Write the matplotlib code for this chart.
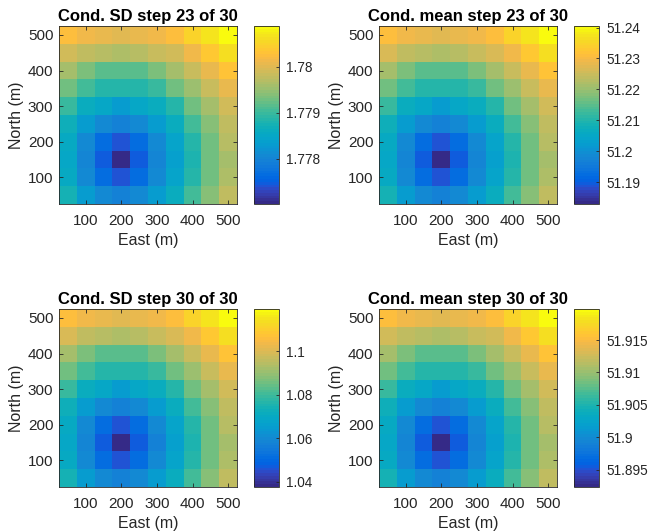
import numpy as np
import matplotlib.pyplot as plt
from matplotlib.colors import ListedColormap
from matplotlib.ticker import FormatStrFormatter

plt.rcParams['font.family'] = ['Liberation Sans', 'DejaVu Sans']

# grid cell centres (m); rows of each field run from north=500 down to north=50
east = [50, 100, 150, 200, 250, 300, 350, 400, 450, 500]
north = [500, 450, 400, 350, 300, 250, 200, 150, 100, 50]

sd_23 = [
    [1.78027, 1.78012, 1.78008, 1.78000, 1.78008, 1.78015, 1.78027, 1.78050, 1.78070, 1.78089],
    [1.77992, 1.77977, 1.77969, 1.77965, 1.77969, 1.77981, 1.77992, 1.78012, 1.78035, 1.78062],
    [1.77961, 1.77934, 1.77919, 1.77919, 1.77919, 1.77934, 1.77957, 1.77981, 1.78008, 1.78031],
    [1.77926, 1.77903, 1.77888, 1.77888, 1.77888, 1.77899, 1.77926, 1.77954, 1.77981, 1.78008],
    [1.77896, 1.77865, 1.77849, 1.77830, 1.77849, 1.77865, 1.77888, 1.77926, 1.77961, 1.77988],
    [1.77868, 1.77834, 1.77806, 1.77795, 1.77806, 1.77830, 1.77861, 1.77903, 1.77942, 1.77977],
    [1.77857, 1.77810, 1.77764, 1.77741, 1.77764, 1.77806, 1.77845, 1.77888, 1.77930, 1.77969],
    [1.77849, 1.77803, 1.77748, 1.77702, 1.77748, 1.77799, 1.77837, 1.77880, 1.77926, 1.77961],
    [1.77857, 1.77810, 1.77764, 1.77741, 1.77764, 1.77806, 1.77845, 1.77888, 1.77930, 1.77965],
    [1.77872, 1.77834, 1.77806, 1.77795, 1.77806, 1.77830, 1.77861, 1.77903, 1.77942, 1.77977],
]

mean_23 = [
    [51.2313, 51.2290, 51.2284, 51.2273, 51.2284, 51.2296, 51.2313, 51.2347, 51.2376, 51.2405],
    [51.2261, 51.2238, 51.2226, 51.2221, 51.2226, 51.2244, 51.2261, 51.2290, 51.2324, 51.2365],
    [51.2215, 51.2175, 51.2152, 51.2152, 51.2152, 51.2175, 51.2209, 51.2244, 51.2284, 51.2319],
    [51.2163, 51.2129, 51.2106, 51.2106, 51.2106, 51.2123, 51.2163, 51.2203, 51.2244, 51.2284],
    [51.2117, 51.2071, 51.2048, 51.2019, 51.2048, 51.2071, 51.2106, 51.2163, 51.2215, 51.2255],
    [51.2077, 51.2025, 51.1985, 51.1967, 51.1985, 51.2019, 51.2065, 51.2129, 51.2186, 51.2238],
    [51.2059, 51.1990, 51.1921, 51.1887, 51.1921, 51.1985, 51.2042, 51.2106, 51.2169, 51.2226],
    [51.2048, 51.1979, 51.1898, 51.1829, 51.1898, 51.1973, 51.2031, 51.2094, 51.2163, 51.2215],
    [51.2059, 51.1990, 51.1921, 51.1887, 51.1921, 51.1985, 51.2042, 51.2106, 51.2169, 51.2221],
    [51.2082, 51.2025, 51.1985, 51.1967, 51.1985, 51.2019, 51.2065, 51.2129, 51.2186, 51.2238],
]

sd_30 = [
    [1.1062, 1.1030, 1.1021, 1.1005, 1.1021, 1.1038, 1.1062, 1.1111, 1.1152, 1.1193],
    [1.0989, 1.0956, 1.0940, 1.0932, 1.0940, 1.0964, 1.0989, 1.1030, 1.1079, 1.1136],
    [1.0923, 1.0866, 1.0834, 1.0834, 1.0834, 1.0866, 1.0915, 1.0964, 1.1021, 1.1070],
    [1.0850, 1.0801, 1.0768, 1.0768, 1.0768, 1.0793, 1.0850, 1.0907, 1.0964, 1.1021],
    [1.0785, 1.0719, 1.0687, 1.0646, 1.0687, 1.0719, 1.0768, 1.0850, 1.0923, 1.0981],
    [1.0727, 1.0654, 1.0597, 1.0572, 1.0597, 1.0646, 1.0711, 1.0801, 1.0883, 1.0956],
    [1.0703, 1.0605, 1.0507, 1.0458, 1.0507, 1.0597, 1.0678, 1.0768, 1.0858, 1.0940],
    [1.0687, 1.0588, 1.0474, 1.0376, 1.0474, 1.0580, 1.0662, 1.0752, 1.0850, 1.0923],
    [1.0703, 1.0605, 1.0507, 1.0458, 1.0507, 1.0597, 1.0678, 1.0768, 1.0858, 1.0932],
    [1.0736, 1.0654, 1.0597, 1.0572, 1.0597, 1.0646, 1.0711, 1.0801, 1.0883, 1.0956],
]

mean_30 = [
    [51.9154, 51.9143, 51.9140, 51.9135, 51.9140, 51.9146, 51.9154, 51.9171, 51.9184, 51.9198],
    [51.9129, 51.9118, 51.9113, 51.9110, 51.9113, 51.9121, 51.9129, 51.9143, 51.9160, 51.9179],
    [51.9107, 51.9088, 51.9077, 51.9077, 51.9077, 51.9088, 51.9105, 51.9121, 51.9140, 51.9157],
    [51.9083, 51.9066, 51.9055, 51.9055, 51.9055, 51.9063, 51.9083, 51.9102, 51.9121, 51.9140],
    [51.9061, 51.9039, 51.9028, 51.9014, 51.9028, 51.9039, 51.9055, 51.9083, 51.9107, 51.9127],
    [51.9041, 51.9017, 51.8997, 51.8989, 51.8997, 51.9014, 51.9036, 51.9066, 51.9094, 51.9118],
    [51.9033, 51.9000, 51.8967, 51.8951, 51.8967, 51.8997, 51.9025, 51.9055, 51.9085, 51.9113],
    [51.9028, 51.8995, 51.8956, 51.8923, 51.8956, 51.8992, 51.9019, 51.9050, 51.9083, 51.9107],
    [51.9033, 51.9000, 51.8967, 51.8951, 51.8967, 51.8997, 51.9025, 51.9055, 51.9085, 51.9110],
    [51.9044, 51.9017, 51.8997, 51.8989, 51.8997, 51.9014, 51.9036, 51.9066, 51.9094, 51.9118],
]

titles = ['Cond. SD step 23 of 30', 'Cond. mean step 23 of 30',
          'Cond. SD step 30 of 30', 'Cond. mean step 30 of 30']
cbar_ticks = [
    [1.778, 1.779, 1.78],
    [51.19, 51.2, 51.21, 51.22, 51.23, 51.24],
    [1.04, 1.06, 1.08, 1.1],
    [51.895, 51.9, 51.905, 51.91, 51.915],
]
axis_ticks = [100, 200, 300, 400, 500]

# parula-like colormap (64 entries)
parula_data = [
    [0.2081, 0.1663, 0.5292], [0.2116, 0.1898, 0.5777], [0.2123, 0.2138, 0.6270],
    [0.2081, 0.2386, 0.6771], [0.1959, 0.2645, 0.7279], [0.1707, 0.2919, 0.7792],
    [0.1253, 0.3242, 0.8303], [0.0591, 0.3598, 0.8683], [0.0117, 0.3875, 0.8820],
    [0.0060, 0.4086, 0.8828], [0.0165, 0.4266, 0.8786], [0.0329, 0.4430, 0.8720],
    [0.0498, 0.4586, 0.8641], [0.0629, 0.4737, 0.8554], [0.0723, 0.4887, 0.8467],
    [0.0779, 0.5040, 0.8384], [0.0793, 0.5200, 0.8312], [0.0749, 0.5375, 0.8263],
    [0.0641, 0.5570, 0.8240], [0.0488, 0.5772, 0.8228], [0.0343, 0.5966, 0.8199],
    [0.0265, 0.6137, 0.8135], [0.0239, 0.6287, 0.8038], [0.0231, 0.6418, 0.7913],
    [0.0228, 0.6535, 0.7768], [0.0267, 0.6642, 0.7607], [0.0384, 0.6743, 0.7436],
    [0.0590, 0.6838, 0.7254], [0.0843, 0.6928, 0.7062], [0.1133, 0.7015, 0.6859],
    [0.1453, 0.7098, 0.6646], [0.1801, 0.7177, 0.6424], [0.2178, 0.7250, 0.6193],
    [0.2586, 0.7317, 0.5954], [0.3022, 0.7376, 0.5712], [0.3482, 0.7424, 0.5473],
    [0.3953, 0.7459, 0.5244], [0.4420, 0.7481, 0.5033], [0.4871, 0.7491, 0.4840],
    [0.5300, 0.7491, 0.4661], [0.5709, 0.7485, 0.4494], [0.6099, 0.7473, 0.4337],
    [0.6473, 0.7456, 0.4188], [0.6834, 0.7435, 0.4044], [0.7184, 0.7411, 0.3905],
    [0.7525, 0.7384, 0.3768], [0.7858, 0.7356, 0.3633], [0.8185, 0.7327, 0.3498],
    [0.8507, 0.7299, 0.3360], [0.8824, 0.7274, 0.3217], [0.9139, 0.7258, 0.3063],
    [0.9450, 0.7261, 0.2886], [0.9739, 0.7314, 0.2666], [0.9938, 0.7455, 0.2403],
    [0.9990, 0.7653, 0.2164], [0.9955, 0.7861, 0.1967], [0.9880, 0.8066, 0.1794],
    [0.9789, 0.8271, 0.1633], [0.9697, 0.8481, 0.1475], [0.9626, 0.8705, 0.1309],
    [0.9589, 0.8949, 0.1132], [0.9598, 0.9218, 0.0948], [0.9661, 0.9514, 0.0755],
    [0.9763, 0.9831, 0.0538],
]
parula = ListedColormap(parula_data, name='parula')

fields = [sd_23, mean_23, sd_30, mean_30]

fig = plt.figure(figsize=(6.52, 5.31), dpi=100)
W, H = 652.0, 531.0

# pixel boxes: (axes left, colorbar left, top)
boxes = [(59, 254, 26), (379, 574, 26), (59, 254, 309), (379, 574, 309)]
size = 178
cbar_w = 25

for k in range(4):
    ax_left, cb_left, top = boxes[k]
    ax = fig.add_axes([ax_left / W, 1 - (top + size) / H, size / W, size / H])
    cax = fig.add_axes([cb_left / W, 1 - (top + size) / H, cbar_w / W, size / H])

    mesh = ax.pcolormesh(east, north, np.array(fields[k]), cmap=parula, shading='nearest')
    ax.set_xlim(25, 525)
    ax.set_ylim(25, 525)
    ax.set_xticks(axis_ticks)
    ax.set_yticks(axis_ticks)
    ax.tick_params(direction='in', length=3, width=0.6, top=True, right=True,
                   labelsize=11, colors='0.15')
    ax.tick_params(axis='x', pad=7)
    ax.tick_params(axis='y', pad=4)
    for s in ax.spines.values():
        s.set_color('0.15')
        s.set_linewidth(0.6)
    ax.set_xlabel('East (m)', fontsize=11.5, color='0.15', labelpad=4)
    ax.set_ylabel('North (m)', fontsize=11.5, color='0.15', labelpad=3)
    ax.set_title(titles[k], fontsize=12, fontweight='bold', pad=3.5)

    cb = fig.colorbar(mesh, cax=cax)
    cb.set_ticks(cbar_ticks[k])
    cb.ax.yaxis.set_major_formatter(FormatStrFormatter('%g'))
    cb.ax.tick_params(direction='in', length=2, width=0.6, labelsize=9.8,
                      colors='0.15', pad=5)
    cb.outline.set_edgecolor('0.15')
    cb.outline.set_linewidth(0.6)

fig.savefig('out.png', dpi=100)
